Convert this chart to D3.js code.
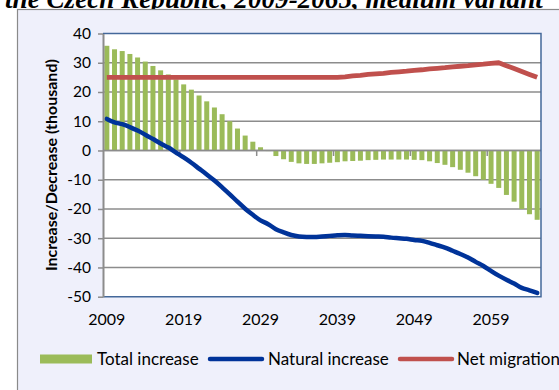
<!DOCTYPE html>
<html>
<head>
<meta charset="utf-8">
<script src="https://cdn.jsdelivr.net/npm/d3@7"></script>
<style>
  body { margin: 0; background: #ffffff; }
  svg { display: block; font-family: Lato, "Open Sans", sans-serif; }
</style>
</head>
<body>
<svg id="chart" width="559" height="390"></svg>
<script>
// Population change of the Czech Republic, 2009–2065 (thousand persons)
const years = d3.range(2009, 2066);

const totalIncrease = [
  35.8, 34.6, 34.0, 33.0, 31.8, 30.4, 28.9, 27.4, 26.0, 24.3,
  22.6, 20.8, 18.8, 16.8, 14.7, 12.4, 10.0, 7.5, 5.1, 3.0,
  1.1, -0.2, -1.9, -3.0, -3.9, -4.4, -4.6, -4.6, -4.4, -4.2,
  -4.0, -3.7, -3.6, -3.5, -3.3, -3.2, -3.1, -3.1, -3.1, -3.1,
  -3.2, -3.3, -3.7, -4.3, -4.9, -5.7, -6.6, -7.6, -8.8, -10.0,
  -11.4, -12.8, -15.2, -17.5, -20.0, -21.8, -23.7
];

const naturalIncrease = [
  10.8, 9.6, 9.0, 8.0, 6.8, 5.4, 3.9, 2.4, 1.0, -0.7,
  -2.4, -4.2, -6.2, -8.2, -10.3, -12.6, -15.0, -17.5, -19.9, -22.0,
  -23.9, -25.2, -26.9, -28.0, -28.9, -29.4, -29.6, -29.6, -29.4, -29.2,
  -29.0, -28.9, -29.1, -29.2, -29.3, -29.4, -29.5, -29.8, -30.0, -30.2,
  -30.6, -30.9, -31.6, -32.4, -33.2, -34.3, -35.4, -36.6, -38.1, -39.5,
  -41.2, -42.8, -44.2, -45.5, -47.0, -47.8, -48.7
];

const netMigration = [
  25, 25, 25, 25, 25, 25, 25, 25, 25, 25,
  25, 25, 25, 25, 25, 25, 25, 25, 25, 25,
  25, 25, 25, 25, 25, 25, 25, 25, 25, 25,
  25, 25.2, 25.5, 25.7, 26.0, 26.2, 26.4, 26.7, 26.9, 27.1,
  27.4, 27.6, 27.9, 28.1, 28.3, 28.6, 28.8, 29.0, 29.3, 29.5,
  29.8, 30.0, 29.0, 28.0, 27.0, 26.0, 25.0
];

const yTicks = [40, 30, 20, 10, 0, -10, -20, -30, -40, -50];
const xTickLabels = [2009, 2019, 2029, 2039, 2049, 2059];
const seriesNames = ["Total increase", "Natural increase", "Net migration"];
const yTitle = "Increase/Decrease (thousand)";
const titleText = "the Czech Republic, 2009-2065, medium variant";

const colors = { total: "#9bbb59", natural: "#003399", migration: "#c0504d" };

const svg = d3.select("#chart");

// Chart title line (its upper part runs off the top edge)
const title = svg.append("text")
  .attr("x", 5).attr("y", 8)
  .style("font-family", "'Liberation Serif', 'DejaVu Serif', serif")
  .style("font-weight", "bold").style("font-style", "italic")
  .style("font-size", "20px")
  .text(titleText);
const tw = title.node().getComputedTextLength();
title.style("font-size", (20 * 538 / tw).toFixed(2) + "px");

// Chart area frame
svg.append("rect")
  .attr("x", 17.5).attr("y", 9.5).attr("width", 560).attr("height", 400)
  .attr("fill", "#eff0fb").attr("stroke", "#8a8a8a").attr("stroke-width", 1.2);

const plot = { left: 103, right: 541, top: 33.5, bottom: 296.7 };

svg.append("rect")
  .attr("x", plot.left).attr("y", plot.top)
  .attr("width", plot.right - plot.left).attr("height", plot.bottom - plot.top)
  .attr("fill", "#ffffff");

const pad = 0.35;
const x = d3.scaleBand().domain(years)
  .range([plot.left, plot.right])
  .paddingInner(pad).paddingOuter(pad / 2);
const step = x.step();
const cx = d => x(d) + x.bandwidth() / 2;

const y = d3.scaleLinear().domain([-50, 40]).range([plot.bottom, plot.top]);

// Horizontal gridlines
svg.append("g").selectAll("line")
  .data(yTicks.filter(t => t !== 40 && t !== -50))
  .join("line")
  .attr("x1", plot.left).attr("x2", plot.right)
  .attr("y1", d => y(d)).attr("y2", d => y(d))
  .attr("stroke", "#8c8c8c").attr("stroke-width", 1.5);

// Total increase bars
svg.append("g").selectAll("rect")
  .data(years.map((yr, i) => ({ yr, v: totalIncrease[i] })))
  .join("rect")
  .attr("x", d => x(d.yr))
  .attr("width", x.bandwidth())
  .attr("y", d => y(Math.max(0, d.v)))
  .attr("height", d => Math.abs(y(d.v) - y(0)))
  .attr("fill", colors.total);

// Category axis at zero with tick marks every ten years
svg.append("line")
  .attr("x1", plot.left).attr("x2", plot.right)
  .attr("y1", y(0)).attr("y2", y(0))
  .attr("stroke", "#8c8c8c").attr("stroke-width", 1.5);
svg.append("g").selectAll("line")
  .data(d3.range(10, years.length, 10))
  .join("line")
  .attr("x1", k => plot.left + step * k).attr("x2", k => plot.left + step * k)
  .attr("y1", y(0)).attr("y2", y(0) + 5.5)
  .attr("stroke", "#8c8c8c").attr("stroke-width", 1.5);

// Lines
const lineNatural = d3.line()
  .x((d, i) => cx(years[i])).y(d => y(d))
  .curve(d3.curveCatmullRom.alpha(0.5));
const lineMigration = d3.line()
  .x((d, i) => cx(years[i])).y(d => y(d));

svg.append("path").datum(naturalIncrease)
  .attr("d", lineNatural)
  .attr("fill", "none").attr("stroke", colors.natural)
  .attr("stroke-width", 4.5).attr("stroke-linecap", "round").attr("stroke-linejoin", "round");

svg.append("path").datum(netMigration)
  .attr("d", lineMigration)
  .attr("fill", "none").attr("stroke", colors.migration)
  .attr("stroke-width", 4.8).attr("stroke-linecap", "butt").attr("stroke-linejoin", "round");

// Plot area border (top, right, bottom)
svg.append("path")
  .attr("d", `M${plot.left},${plot.top}H${plot.right}V${plot.bottom}H${plot.left}`)
  .attr("fill", "none").attr("stroke", "#44689a").attr("stroke-width", 1.5);

// Value axis
const yAxis = svg.append("g")
  .attr("transform", `translate(${plot.left},0)`)
  .call(d3.axisLeft(y).tickValues(yTicks).tickFormat(d => String(d))
    .tickSize(5).tickPadding(7).tickSizeOuter(0));
yAxis.select(".domain").attr("stroke", "#8c8c8c").attr("stroke-width", 2);
yAxis.selectAll(".tick line").attr("stroke", "#8c8c8c").attr("stroke-width", 1.5);
yAxis.selectAll(".tick text")
  .style("font-family", "Lato, sans-serif").style("font-size", "15.5px").attr("fill", "#000");

// Year labels
const xAxis = svg.append("g")
  .attr("transform", `translate(0,${plot.bottom})`)
  .call(d3.axisBottom(x).tickValues(xTickLabels).tickSize(0).tickPadding(17));
xAxis.select(".domain").remove();
xAxis.selectAll(".tick text")
  .style("font-family", "Lato, sans-serif").style("font-size", "16px").attr("fill", "#000");

// Value axis title
svg.append("text")
  .attr("transform", `translate(56.5,${(plot.top + plot.bottom) / 2}) rotate(-90)`)
  .attr("text-anchor", "middle")
  .style("font-family", "Lato, sans-serif").style("font-weight", "bold").style("font-size", "16px")
  .text(yTitle);

// Legend
const legendY = 359;
const lg = svg.append("g").style("font-family", "Lato, sans-serif").style("font-size", "17px");
lg.append("rect").attr("x", 40).attr("y", legendY - 4.5).attr("width", 52).attr("height", 9)
  .attr("fill", colors.total);
lg.append("text").attr("x", 97).attr("y", legendY + 6).text(seriesNames[0]);
lg.append("line").attr("x1", 210).attr("x2", 262).attr("y1", legendY).attr("y2", legendY)
  .attr("stroke", colors.natural).attr("stroke-width", 4.5).attr("stroke-linecap", "round");
lg.append("text").attr("x", 268).attr("y", legendY + 6).text(seriesNames[1]);
lg.append("line").attr("x1", 400).attr("x2", 452).attr("y1", legendY).attr("y2", legendY)
  .attr("stroke", colors.migration).attr("stroke-width", 4.5).attr("stroke-linecap", "round");
lg.append("text").attr("x", 457).attr("y", legendY + 6).text(seriesNames[2]);
</script>
</body>
</html>
